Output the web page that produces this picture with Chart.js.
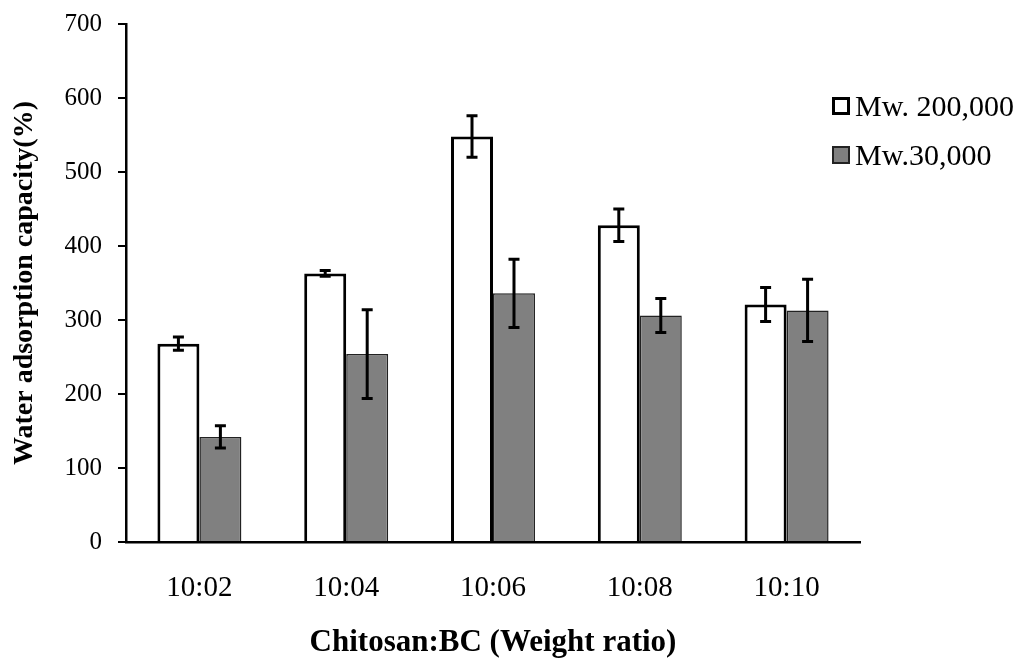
<!DOCTYPE html>
<html>
<head>
<meta charset="utf-8">
<script src="https://cdn.jsdelivr.net/npm/chart.js@4"></script>
<style>
  body { margin: 0; background: #fff; }
  #wrap { position: relative; width: 1024px; height: 658px; }
  .legend { position: absolute; left: 832px; height: 30px; line-height: 30px; font-family: "Liberation Serif", serif; font-size: 30px; color: #000; display: flex; align-items: center; white-space: nowrap; }
  .legend span.box { display: inline-block; width: 18px; height: 18px; margin-right: 5px; box-sizing: border-box; }
</style>
</head>
<body>
<div id="wrap">
  <canvas id="barChart" width="1024" height="658"></canvas>
  <div class="legend" style="top:91px"><span class="box" style="border:3px solid #000;background:#fff"></span>Mw. 200,000</div>
  <div class="legend" style="top:140px"><span class="box" style="border:2px solid #222;background:#808080"></span>Mw.30,000</div>
</div>
<script>
const ratios = ['10:02', '10:04', '10:06', '10:08', '10:10'];
const mw200k = [268, 363, 548, 428, 321];
const mw200kErr = [9, 4, 28, 22, 23];
const mw30k = [142, 254, 336, 306, 313];
const mw30kErr = [15, 60, 46, 23, 42];
const yTicks = [0, 100, 200, 300, 400, 500, 600, 700];

const serif = '"Liberation Serif", "Times New Roman", serif';
const barCtx = document.querySelector('#barChart').getContext('2d');

// error bars drawn over the bars
const errorBars = {
    id: 'errorBars',
    afterDatasetsDraw(chart) {
        const ctx = chart.ctx;
        const y = chart.scales.y;
        const errs = [mw200kErr, mw30kErr];
        ctx.save();
        ctx.strokeStyle = '#000';
        ctx.lineWidth = 3;
        chart.data.datasets.forEach((ds, i) => {
            chart.getDatasetMeta(i).data.forEach((bar, j) => {
                const v = ds.data[j];
                const top = y.getPixelForValue(v + errs[i][j]);
                const bot = y.getPixelForValue(v - errs[i][j]);
                const x = bar.x;
                ctx.beginPath();
                ctx.moveTo(x, top); ctx.lineTo(x, bot);
                ctx.moveTo(x - 5.5, top); ctx.lineTo(x + 5.5, top);
                ctx.moveTo(x - 5.5, bot); ctx.lineTo(x + 5.5, bot);
                ctx.stroke();
            });
        });
        ctx.restore();
    }
};

let barChart = new Chart(barCtx, {
    type: 'bar',
    data: {
        labels: ratios,
        datasets: [
            {
                label: 'Mw. 200,000',
                data: mw200k,
                backgroundColor: '#ffffff',
                borderColor: '#000000',
                borderWidth: 3,
                categoryPercentage: 0.572,
                barPercentage: 1
            },
            {
                label: 'Mw.30,000',
                data: mw30k,
                backgroundColor: '#808080',
                borderColor: '#222222',
                borderWidth: 1.5,
                categoryPercentage: 0.572,
                barPercentage: 1
            }
        ]
    },
    options: {
        responsive: false,
        animation: false,
        layout: {
            padding: { left: 0, right: 164, top: 24, bottom: 0 }
        },
        plugins: {
            legend: { display: false },
            tooltip: { enabled: false }
        },
        scales: {
            x: {
                grid: { display: false },
                border: { color: '#000', width: 2.5 },
                ticks: { color: '#000', font: { family: serif, size: 29 }, padding: 21 },
                title: {
                    display: true,
                    text: 'Chitosan:BC (Weight ratio)',
                    color: '#000',
                    font: { family: serif, size: 31, weight: 'bold', lineHeight: 1 },
                    padding: { top: 4, bottom: 0 }
                },
                afterFit: (scale) => { scale.height = 116; }
            },
            y: {
                min: 0,
                max: 700,
                afterBuildTicks: (scale) => { scale.ticks = yTicks.map(v => ({ value: v })); },
                grid: { drawOnChartArea: false, drawTicks: true, tickLength: 8, color: '#000', lineWidth: 2 },
                border: { color: '#000', width: 2.5 },
                ticks: { color: '#000', font: { family: serif, size: 25 }, padding: 16 },
                title: {
                    display: true,
                    text: 'Water adsorption capacity(%)',
                    color: '#000',
                    font: { family: serif, size: 28, weight: 'bold', lineHeight: 1 },
                    padding: { top: 11, bottom: 0 }
                },
                afterFit: (scale) => {
                    scale.width = 126;
                    scale.paddingTop = 0;
                    scale.paddingBottom = 0;
                }
            }
        }
    },
    plugins: [errorBars]
});
</script>
</body>
</html>
